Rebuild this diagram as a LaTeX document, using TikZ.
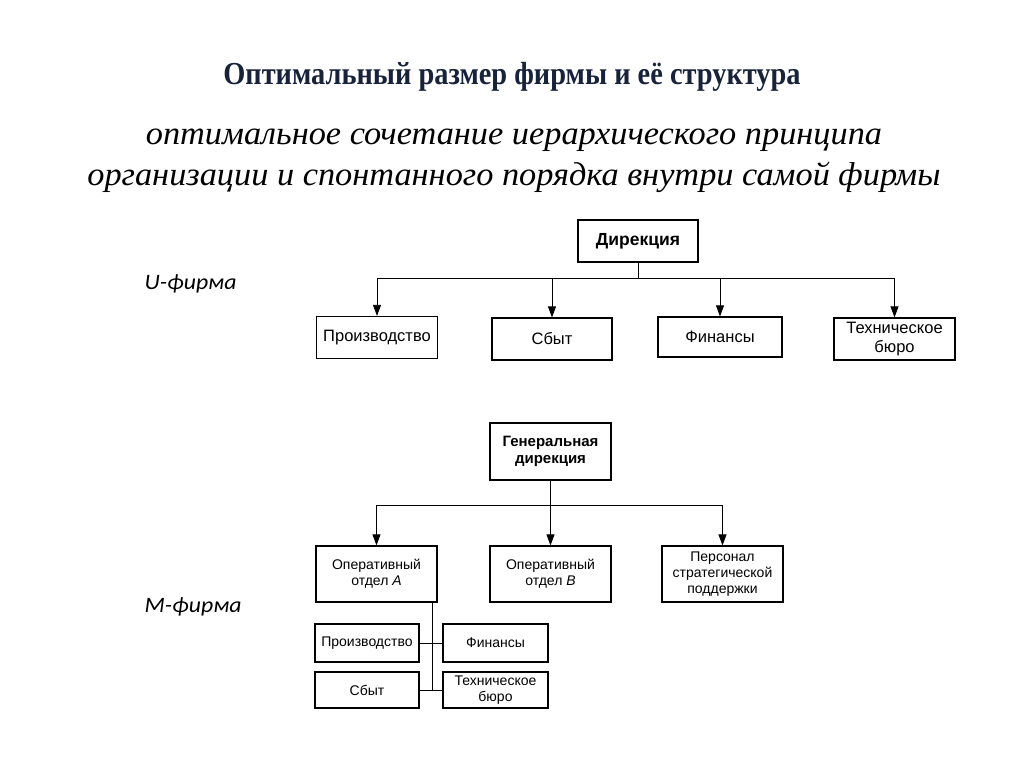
\documentclass[tikz,border=0pt]{standalone}
\usepackage{fontspec}
\setmainfont{Liberation Serif}
\setsansfont{Liberation Sans}
\newfontfamily\labfont{Carlito}
\usetikzlibrary{arrows.meta}
\definecolor{titleblue}{HTML}{17223B}
\tikzset{
  box/.style={draw, line width=1.2pt, align=center, inner sep=1pt,
    font=\sffamily\fontsize{14}{16}\selectfont},
  ubox/.style={box, font=\sffamily\fontsize{16.5}{19}\selectfont},
  bbox/.style={box, font=\sffamily\bfseries\fontsize{15}{17}\selectfont},
  conn/.style={line width=0.8pt},
  arr/.style={conn, -{Triangle[length=11pt,width=8pt]}},
  flab/.style={font=\labfont\itshape\fontsize{22}{24}\selectfont, anchor=base west},
}
\begin{document}
\begin{tikzpicture}[x=1pt,y=-1pt]
\useasboundingbox[fill=white] (0,0) rectangle (1024,767);
% titles
\node[font=\bfseries\fontsize{32}{36}\selectfont, text=titleblue, anchor=base] (title) at (512,85)
  {\scalebox{0.887}[1]{Оптимальный размер фирмы и её структура}};
\node[font=\itshape\fontsize{33}{41}\selectfont, align=center] (sub) at (514,161)
  {\scalebox{1.04}[1]{оптимальное сочетание иерархического принципа}\\\scalebox{1.04}[1]{организации и спонтанного порядка внутри самой фирмы}};
\node[flab] (ulab) at (141,289) {\scalebox{1.08}[1]{U-фирма}};
\node[flab] (mlab) at (141,612) {\scalebox{1.08}[1]{M-фирма}};
% U-firm
\node[bbox, font=\sffamily\bfseries\fontsize{17.5}{20}\selectfont, minimum width=120, minimum height=42] (dir) at (638,241) {Дирекция};
\node[ubox, minimum width=121, minimum height=42] (p1) at (377,337.5) {Производство};
\node[ubox, minimum width=120, minimum height=42] (s1) at (552,339) {Сбыт};
\node[ubox, minimum width=124, minimum height=40] (f1) at (720,337) {Финансы};
\node[ubox, minimum width=121, minimum height=42] (t1) at (894.5,339) {Техническое\\бюро};
\coordinate (ubar) at (0,278);
\draw[conn] (dir.south) -- (dir.south |- ubar);
\draw[conn] (p1.north |- ubar) -- (t1.north |- ubar);
\foreach \n in {p1,s1,f1,t1} \draw[arr] (\n.north |- ubar) -- (\n.north);
% M-firm
\node[bbox, minimum width=121, minimum height=57] (gd) at (550.5,451.5) {Генеральная\\дирекция};
\node[box, minimum width=121, minimum height=56] (oa) at (376.5,574) {Оперативный\\отдел \textit{A}};
\node[box, minimum width=121, minimum height=56] (ob) at (550.5,574) {Оперативный\\отдел \textit{B}};
\node[box, minimum width=121, minimum height=56] (ps) at (722.5,574) {Персонал\\стратегической\\поддержки};
\node[box, minimum width=104, minimum height=38] (p2) at (367,643) {Производство};
\node[box, minimum width=105, minimum height=38] (f2) at (495.5,643) {Финансы};
\node[box, minimum width=104, minimum height=36] (s2) at (367,690) {Сбыт};
\node[box, minimum width=105, minimum height=36] (t2) at (495.5,690) {Техническое\\бюро};
\coordinate (mbar) at (0,505);
\coordinate (sp) at (432,0);
\draw[conn] (gd.south) -- (gd.south |- mbar);
\draw[conn] (oa.north |- mbar) -- (ps.north |- mbar);
\foreach \n in {oa,ob,ps} \draw[arr] (\n.north |- mbar) -- (\n.north);
\draw[conn] (sp |- oa.south) -- (sp |- s2.east);
\draw[conn] (p2.east) -- (f2.west);
\draw[conn] (s2.east) -- (t2.west);
\end{tikzpicture}
\end{document}
